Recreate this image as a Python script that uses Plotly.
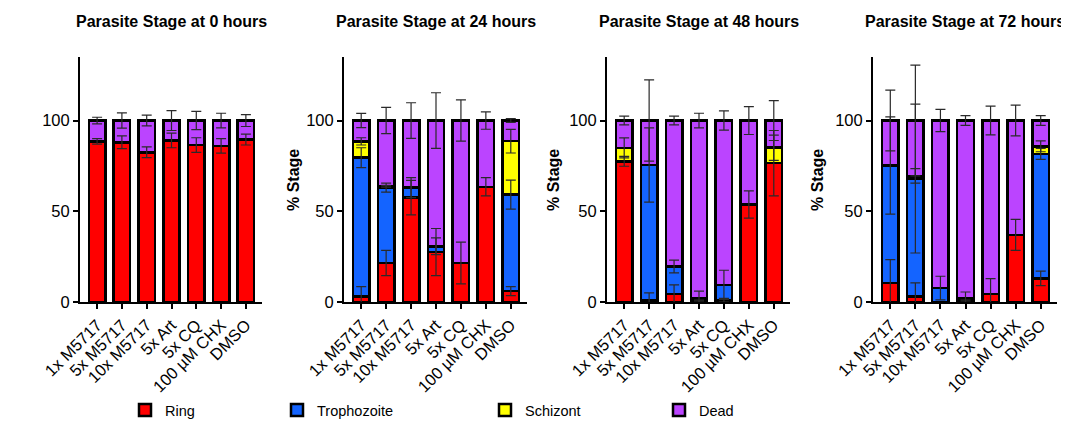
import numpy as np
import plotly.graph_objects as go

categories = ["1x M5717", "5x M5717", "10x M5717", "5x Art", "5x CQ", "100 µM CHX", "DMSO"]
panel_titles = ["Parasite Stage at 0 hours", "Parasite Stage at 24 hours",
                "Parasite Stage at 48 hours", "Parasite Stage at 72 hours"]
stage_names = ["Ring", "Trophozoite", "Schizont", "Dead"]
y_ticks = [0, 50, 100]

# 0 hours
ring_0h = [88.5, 88, 82.5, 89, 86.5, 86, 89.5]
ring_0h_sd = [1.5, 3.5, 3, 4, 4, 4, 3]
troph_0h = [0, 0, 0, 0, 0, 0, 0]
troph_0h_sd = [0, 0, 0, 0, 0, 0, 0]
schiz_0h = [0, 0, 0, 0, 0, 0, 0]
schiz_0h_sd = [0, 0, 0, 0, 0, 0, 0]
dead_0h = [11.5, 12, 17.5, 11, 13.5, 14, 10.5]
dead_0h_sd = [1.8, 4.2, 3, 5.5, 5, 4, 3.3]

# 24 hours
ring_24h = [3, 21.5, 57.5, 27.5, 21.5, 63.5, 6]
ring_24h_sd = [5.5, 7, 9.5, 13, 11.5, 5, 2.5]
troph_24h = [76.5, 41.5, 5.5, 3.2, 0, 0, 53.2]
troph_24h_sd = [5.5, 2.5, 5.5, 4.6, 0, 0, 8]
schiz_24h = [9, 0.8, 0, 0, 0, 0, 29.4]
schiz_24h_sd = [2, 0.5, 0, 0, 0, 0, 6.5]
dead_24h = [11.5, 36.2, 37, 69.3, 78.5, 36.5, 11.4]
dead_24h_sd = [3.9, 7.2, 9.8, 15.3, 11.4, 4.8, 1]

# 48 hours
ring_48h = [77.5, 1, 4.4, 0.5, 1, 53.7, 76.5]
ring_48h_sd = [2.7, 4, 5, 0.5, 1, 7.5, 18]
troph_48h = [0, 74.5, 15.2, 1.5, 8.5, 0, 0]
troph_48h_sd = [0, 20.5, 3.5, 4, 8, 0, 0]
schiz_48h = [7.4, 0, 0, 0, 0, 0, 8.5]
schiz_48h_sd = [5.5, 0, 0, 0, 0, 0, 7]
dead_48h = [15.1, 24.5, 80.4, 98, 90.5, 46.3, 15]
dead_48h_sd = [2.4, 22.4, 2.4, 4, 5.3, 7.7, 11]

# 72 hours
ring_72h = [10.5, 3, 0, 0.5, 4.4, 37, 13]
ring_72h_sd = [12.8, 7.5, 0, 0.5, 8.5, 8.5, 4]
troph_72h = [64.7, 65, 7.7, 1.5, 0, 0, 68.6]
troph_72h_sd = [26.8, 41, 6.5, 3.5, 0, 0, 3]
schiz_72h = [0, 1.5, 0, 0, 0, 0, 4.2]
schiz_72h_sd = [0, 4, 0, 0, 0, 0, 3]
dead_72h = [24.8, 30.5, 92.3, 98, 95.6, 63, 14.2]
dead_72h_sd = [16.7, 30.5, 6.1, 2.7, 7.9, 8.5, 2.7]

panels = [
    ([ring_0h, troph_0h, schiz_0h, dead_0h], [ring_0h_sd, troph_0h_sd, schiz_0h_sd, dead_0h_sd]),
    ([ring_24h, troph_24h, schiz_24h, dead_24h], [ring_24h_sd, troph_24h_sd, schiz_24h_sd, dead_24h_sd]),
    ([ring_48h, troph_48h, schiz_48h, dead_48h], [ring_48h_sd, troph_48h_sd, schiz_48h_sd, dead_48h_sd]),
    ([ring_72h, troph_72h, schiz_72h, dead_72h], [ring_72h_sd, troph_72h_sd, schiz_72h_sd, dead_72h_sd]),
]

colors = ["#FF0000", "#1464FF", "#FFFF00", "#BB44FF"]
FONT = "Liberation Sans, Arial, sans-serif"
OFF = 8  # page body margin
W, H = 1069 - OFF, 421 - OFF
TOP, BOTTOM = 57 - OFF, 302 - OFF
PH = BOTTOM - TOP
x_domains = [(80, 262), (344, 527), (607, 790), (873, 1057)]
ytitle_x = [None, 293, 553, 817]
legend_names = ["legend", "legend2", "legend3", "legend4"]
legend_x = [125, 277, 485, 659]

fig = go.Figure()
layout = dict(
    width=W, height=H, margin=dict(l=0, r=0, t=TOP, b=H - BOTTOM, autoexpand=False),
    plot_bgcolor="white", paper_bgcolor="white", barmode="stack", bargap=0.34,
    font=dict(family=FONT, color="black", size=13),
    annotations=[], showlegend=True,
)

for p, (vals, sds) in enumerate(panels):
    sfx = "" if p == 0 else str(p + 1)
    xa, ya = "x" + sfx, "y" + sfx
    for s in range(4):
        fig.add_trace(go.Bar(
            x=categories, y=vals[s], name=stage_names[s], xaxis=xa, yaxis=ya,
            marker=dict(color=colors[s], line=dict(color="black", width=2.5)),
            showlegend=(p == 0), legend=legend_names[s], hoverinfo="skip",
        ))
    tops = np.cumsum(np.array(vals, dtype=float), axis=0)
    for s in range(4):
        v = np.array(vals[s], dtype=float)
        yv = [t if val > 0 else None for t, val in zip(tops[s], v)]
        fig.add_trace(go.Scatter(
            x=categories, y=yv, xaxis=xa, yaxis=ya, mode="markers",
            marker=dict(size=2, opacity=0), showlegend=False, hoverinfo="skip",
            error_y=dict(type="data", array=sds[s], symmetric=True,
                         color="#2a2a2a", thickness=1.2, width=5),
        ))
    d0, d1 = x_domains[p][0] - OFF, x_domains[p][1] - OFF
    layout["xaxis" + sfx] = dict(
        domain=[d0 / W, d1 / W], anchor=ya, range=[-0.69, 6.65],
        showline=True, linecolor="black", linewidth=2, ticks="outside",
        ticklen=5, tickwidth=1.5, tickcolor="black", tickangle=-45,
        tickfont=dict(size=16.5, family=FONT, color="black"), showgrid=False,
        zeroline=False, automargin=False,
    )
    layout["yaxis" + sfx] = dict(
        domain=[0, 1], anchor=xa, range=[0, 135], tickvals=y_ticks,
        showline=True, linecolor="black", linewidth=2, ticks="outside",
        ticklen=5, tickwidth=1.5, tickcolor="black",
        tickfont=dict(size=16.5, family=FONT, color="black"), showgrid=False,
        zeroline=False, automargin=False,
    )
    layout["annotations"].append(dict(
        text="<b>" + panel_titles[p] + "</b>", xref="paper", yref="paper",
        x=(d0 + d1) / 2 / W, y=1 + (TOP - (21 - OFF)) / PH,
        xanchor="center", yanchor="middle", showarrow=False,
        font=dict(size=16, family=FONT, color="black"),
    ))
    if ytitle_x[p] is not None:
        layout["annotations"].append(dict(
            text="<b>% Stage</b>", xref="paper", yref="paper",
            x=(ytitle_x[p] - OFF) / W, y=(BOTTOM - (180 - OFF)) / PH, textangle=-90,
            xanchor="center", yanchor="middle", showarrow=False,
            font=dict(size=16, family=FONT, color="black"),
        ))

for i, ln in enumerate(legend_names):
    layout[ln] = dict(
        x=(legend_x[i] - OFF) / W, y=(BOTTOM - (410 - OFF)) / PH, xanchor="left",
        yanchor="middle", orientation="h", bgcolor="rgba(0,0,0,0)",
        font=dict(size=14.5, family=FONT, color="black"),
    )

fig.update_layout(**layout)
fig.write_html("out.html")
